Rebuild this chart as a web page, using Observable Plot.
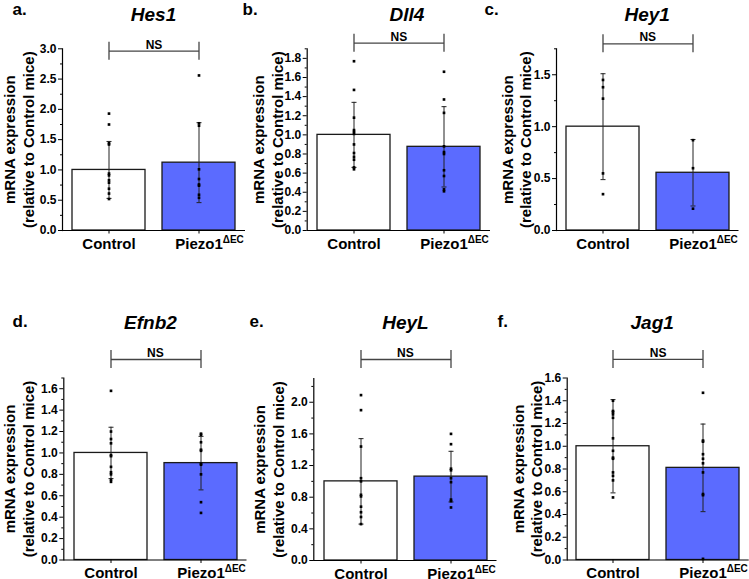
<!DOCTYPE html>
<html><head><meta charset="utf-8">
<script src="https://cdn.jsdelivr.net/npm/d3@7"></script>
<script src="https://cdn.jsdelivr.net/npm/@observablehq/plot@0.6"></script>
<style>
body{margin:0;background:#fff;}
#chart{position:relative;width:749px;height:579px;overflow:hidden;}
#chart svg{position:absolute;left:0;top:0;}
</style></head><body><div id="chart"></div>
<script>
// ---------- data ----------
const groups = ["Control", "Piezo1"];
const piezoSuperscript = "ΔEC";
const genes = ["Hes1", "Dll4", "Hey1", "Efnb2", "HeyL", "Jag1"];
const panelLetters = ["a.", "b.", "c.", "d.", "e.", "f."];
const significance = ["NS", "NS", "NS", "NS", "NS", "NS"];
const yLabelLines = ["mRNA expression", "(relative to Control mice)"];

const controlMean = [1.0, 1.0, 1.0, 1.0, 1.0, 1.0];
const controlSD   = [0.47, 0.34, 0.51, 0.24, 0.54, 0.41];
const piezoMean   = [1.12, 0.875, 0.556, 0.905, 1.06, 0.81];
const piezoSD     = [0.66, 0.42, 0.32, 0.25, 0.32, 0.385];

const hes1Control  = [1.93, 1.75, 1.44, 1.42, 0.94, 0.91, 0.83, 0.79, 0.69, 0.61, 0.52];
const hes1Piezo    = [2.56, 1.77, 1.73, 1.01, 0.85, 0.76, 0.74, 0.59, 0.54];
const dll4Control  = [1.77, 1.47, 1.18, 1.05, 1.03, 1.01, 0.90, 0.81, 0.77, 0.74, 0.66, 0.64];
const dll4Piezo    = [1.66, 1.37, 1.23, 0.88, 0.82, 0.80, 0.63, 0.57, 0.43, 0.41];
const hey1Control  = [1.45, 1.38, 1.27, 0.55, 0.35];
const hey1Piezo    = [0.87, 0.60, 0.21];
const efnb2Control = [1.58, 1.20, 1.13, 1.09, 0.98, 0.97, 0.87, 0.82, 0.80, 0.75, 0.73];
const efnb2Piezo   = [1.18, 1.17, 1.10, 1.03, 1.02, 0.90, 0.89, 0.80, 0.54, 0.44];
const heyLControl  = [2.09, 1.90, 1.44, 1.04, 1.00, 0.83, 0.81, 0.68, 0.61, 0.55, 0.46];
const heyLPiezo    = [1.60, 1.47, 1.16, 1.14, 1.04, 0.99, 0.77, 0.75, 0.67];
const jag1Control  = [1.40, 1.31, 1.30, 1.28, 1.25, 1.07, 0.96, 0.90, 0.89, 0.77, 0.74, 0.70, 0.55];
const jag1Piezo    = [1.47, 1.05, 1.04, 0.93, 0.89, 0.85, 0.77, 0.58, 0.57, 0.01];

const controlPoints = [hes1Control, dll4Control, hey1Control, efnb2Control, heyLControl, jag1Control];
const piezoPoints   = [hes1Piezo, dll4Piezo, hey1Piezo, efnb2Piezo, heyLPiezo, jag1Piezo];

// y axis domains and tick labels
const yDomainMax = [3.0, 1.9, 1.75, 1.7, 2.3, 1.6];
const yTickValues = [
  [0, 0.5, 1.0, 1.5, 2.0, 2.5, 3.0],
  [0, 0.2, 0.4, 0.6, 0.8, 1.0, 1.2, 1.4, 1.6, 1.8],
  [0, 0.5, 1.0, 1.5],
  [0, 0.2, 0.4, 0.6, 0.8, 1.0, 1.2, 1.4, 1.6],
  [0, 0.4, 0.8, 1.2, 1.6, 2.0],
  [0, 0.2, 0.4, 0.6, 0.8, 1.0, 1.2, 1.4, 1.6]
];
// significance bracket level (value units)
const bracketLevel = [2.96, 1.959, 1.798, 1.873, 2.54, 1.763];

// ---------- layout (absolute px in the 749x579 page) ----------
const W = 749, H = 579;
const layout = [
  {left: 62,    right: 245,   top: 48.3,  bottom: 230,   letter: [12, 14],  title: [153, 20.5],   ylab: [9.8, 28.3]},
  {left: 306.7, right: 490,   top: 48.3,  bottom: 230,   letter: [242, 14], title: [406.5, 20.5], ylab: [259, 277.5]},
  {left: 556,   right: 738.5, top: 48.3,  bottom: 230,   letter: [484, 14], title: [646.7, 20.5], ylab: [507.5, 526]},
  {left: 63.3,  right: 246.5, top: 377.5, bottom: 559.5, letter: [12, 326], title: [150, 328],    ylab: [9.8, 28.3]},
  {left: 313.3, right: 496.5, top: 378,   bottom: 560,   letter: [249, 326],title: [405, 328],    ylab: [259.8, 278.3]},
  {left: 566.7, right: 748.7, top: 377.5, bottom: 559.5, letter: [497, 326],title: [651.7, 328],  ylab: [518.2, 536.7]}
];
const blue = "#5b6bff";
const ink = "#1a1a1a";
const bracketColor = "#444";

const capSymbol = {
  draw(context, size) {
    const h = Math.sqrt(size / Math.PI);
    context.moveTo(-h, 0);
    context.lineTo(h, 0);
  }
};

const chart = document.getElementById("chart");

genes.forEach((gene, i) => {
  const L = layout[i];
  const bars = [
    {group: groups[0], mean: controlMean[i], sd: controlSD[i]},
    {group: groups[1], mean: piezoMean[i], sd: piezoSD[i]}
  ];
  const pts = [
    ...controlPoints[i].map(v => ({group: groups[0], value: v})),
    ...piezoPoints[i].map(v => ({group: groups[1], value: v}))
  ];
  const majors = yTickValues[i];
  const step = majors[1] - majors[0];
  const minors = majors.map(v => v + step / 2).filter(v => v <= yDomainMax[i] + 1e-9);
  const frameCx = (L.left + L.right) / 2;
  const bracketEnds = groups.map(g => ({group: g, y: bracketLevel[i]}));

  const svg = Plot.plot({
    width: W, height: H,
    marginLeft: L.left, marginRight: W - L.right, marginTop: L.top, marginBottom: H - L.bottom,
    style: {fontFamily: "'Liberation Sans', Arial, sans-serif", fontSize: "12px", fontWeight: "bold", color: "black", background: "transparent", overflow: "visible"},
    x: {domain: groups, paddingInner: 0.193, paddingOuter: 0.105, align: 0.5, label: null},
    y: {domain: [0, yDomainMax[i]], label: null},
    color: {domain: groups, range: ["#ffffff", blue]},
    marks: [
      Plot.barY(bars, {x: "group", y: "mean", fill: "group", stroke: ink, strokeWidth: 1.3}),
      Plot.ruleX(bars, {x: "group", y1: d => d.mean - d.sd, y2: d => d.mean + d.sd, stroke: "#222", strokeWidth: 1}),
      Plot.dot(bars, {x: "group", y: d => d.mean + d.sd, symbol: capSymbol, r: 2.5, stroke: "#222", fill: "none", strokeWidth: 1}),
      Plot.dot(bars, {x: "group", y: d => d.mean - d.sd, symbol: capSymbol, r: 2.5, stroke: "#222", fill: "none", strokeWidth: 1}),
      Plot.dot(pts, {x: "group", y: "value", symbol: "square", r: 1.5, fill: "black"}),
      Plot.axisY({ticks: minors, tickSize: 2, tickFormat: () => ""}),
      Plot.axisY({ticks: majors, tickSize: 4, tickPadding: 2, tickFormat: d3.format(".1f"), fontSize: 12}),
      Plot.axisX({tickSize: 3.5, tickPadding: 4, fontSize: 15}),
      Plot.ruleY([0], {strokeWidth: 1.2}),
      Plot.frame({anchor: "left", strokeWidth: 1.2}),
      // significance bracket
      Plot.link([{a: groups[0], b: groups[1], y: bracketLevel[i]}], {x1: "a", x2: "b", y1: "y", y2: "y", stroke: bracketColor, strokeWidth: 1.3}),
      Plot.ruleX(bracketEnds, {x: "group", y1: "y", y2: "y", insetTop: -9, insetBottom: -9, stroke: bracketColor, strokeWidth: 1.3}),
      Plot.text([{label: significance[i], y: bracketLevel[i]}], {y: "y", text: "label", dy: -2.5, lineAnchor: "bottom", fontSize: 12}),
      // panel letter and title
      Plot.text([panelLetters[i]], {text: d => d, frameAnchor: "top-left", textAnchor: "start", lineAnchor: "bottom", dx: L.letter[0] - L.left, dy: L.letter[1] - L.top, fontSize: 17}),
      Plot.text([gene], {text: d => d, frameAnchor: "top", textAnchor: "middle", lineAnchor: "bottom", dx: L.title[0] - frameCx, dy: L.title[1] - L.top, fontSize: 19, fontStyle: "italic"}),
      // y axis title (two lines)
      Plot.text([yLabelLines[0]], {text: d => d, frameAnchor: "left", textAnchor: "middle", lineAnchor: "middle", rotate: -90, dx: L.ylab[0] - L.left, fontSize: 15}),
      Plot.text([yLabelLines[1]], {text: d => d, frameAnchor: "left", textAnchor: "middle", lineAnchor: "middle", rotate: -90, dx: L.ylab[1] - L.left, fontSize: 15})
    ]
  });
  chart.appendChild(svg);

  // superscript on the Piezo1 tick label
  svg.querySelectorAll('g[aria-label="x-axis tick label"] text').forEach(t => {
    if (t.textContent === groups[1]) {
      const w1 = t.getComputedTextLength();
      const ts = document.createElementNS("http://www.w3.org/2000/svg", "tspan");
      ts.setAttribute("dy", "-6");
      ts.setAttribute("font-size", "10");
      ts.textContent = piezoSuperscript;
      t.appendChild(ts);
      const w2 = t.getComputedTextLength();
      t.setAttribute("x", (w2 - w1) / 2);
    }
  });
});
</script></body></html>
